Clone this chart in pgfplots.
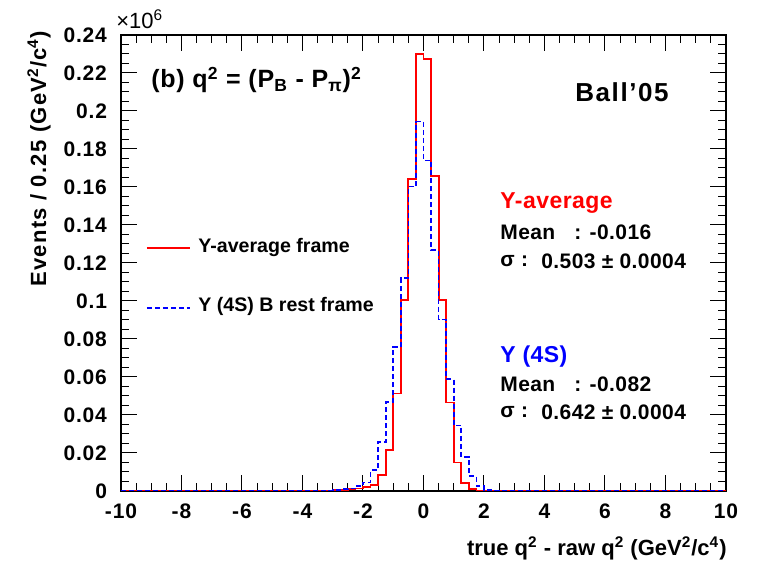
\documentclass[border=0pt]{standalone}
\usepackage{pgfplots}
\pgfplotsset{compat=1.18}
\usepackage{fontspec}
\setmainfont{Liberation Sans}
\definecolor{rootred}{RGB}{255,0,0}
\definecolor{rootblue}{RGB}{0,0,255}

% q^2 resolution, bins of 0.25 GeV^2/c^4 (left edge, events in units of 10^6)
\pgfplotstableread{
x      y
-10    0
-3.25  0.0002
-3.0   0.0004
-2.75  0.0006
-2.5   0.0009
-2.25  0.0013
-2.0   0.0022
-1.75  0.0033
-1.5   0.0086
-1.25  0.0214
-1.0   0.0513
-0.75  0.1005
-0.5   0.1643
-0.25  0.2300
0.0    0.2273
0.25   0.1656
0.5    0.1004
0.75   0.0466
1.0    0.0150
1.25   0.0040
1.5    0.0012
1.75   0.0003
2.0    0
10     0
}\avgframe

\pgfplotstableread{
x      y
-10    0
-3.25  0.0003
-3.0   0.0006
-2.75  0.0009
-2.5   0.0013
-2.25  0.0025
-2.0   0.0045
-1.75  0.0110
-1.5   0.0258
-1.25  0.0470
-1.0   0.0757
-0.75  0.1120
-0.5   0.1602
-0.25  0.1944
0.0    0.1740
0.25   0.1267
0.5    0.0902
0.75   0.0589
1.0    0.0345
1.25   0.0179
1.5    0.0080
1.75   0.0025
2.0    0.0006
2.25   0.0001
2.5    0
10     0
}\restframe

\newcommand\lblfont[2]{\fontsize{#1}{#1}\selectfont\bfseries\addfontfeature{LetterSpace=#2}}

\begin{document}
\begin{tikzpicture}
% page frame and annotations in a top-left based unit grid
\begin{scope}[x=0.5pt,y=-0.5pt,shift={(-60.5pt,245.5pt)}]
  \path[use as bounding box] (0,0) rectangle (757,561);
  \node[anchor=west,inner sep=0pt,font=\fontsize{11}{12}\selectfont] at (116,19) {×10\textsuperscript{6}};
  \node[rotate=90,anchor=east,inner sep=0pt,font=\lblfont{11}{6}] at (39,31) {Events / 0.25 (GeV\textsuperscript{2}/c\textsuperscript{4})};
  \node[anchor=east,inner sep=0pt,font=\lblfont{11}{0}] at (727,548) {true q\textsuperscript{2} - raw q\textsuperscript{2} (GeV\textsuperscript{2}/c\textsuperscript{4})};
  \node[anchor=west,inner sep=0pt,font=\lblfont{12.5}{3}] at (151,80) {(b) q\textsuperscript{2} = (P\textsubscript{B} - P\textsubscript{π})\textsuperscript{2}};
  \node[inner sep=0pt,font=\lblfont{13}{6}] at (622,92) {Ball’05};
  % legend
  \draw[rootred,line width=0.8pt] (147,248) -- (190,248);
  \node[anchor=west,inner sep=0pt,font=\lblfont{9.8}{0}] at (198,247) {Υ-average frame};
  \draw[rootblue,line width=0.8pt,dash pattern=on 2.5pt off 1.5pt] (147,308) -- (190,308);
  \node[anchor=west,inner sep=0pt,font=\lblfont{9.8}{0}] at (198,306) {Υ (4S) B rest frame};
  % fit results
  \begin{scope}[every node/.style={anchor=west,inner sep=0pt,font=\lblfont{10.5}{2}}]
    \node[text=rootred,font=\lblfont{11.5}{2}] at (500,203) {Υ-average};
    \node at (500,232) {Mean};
    \node at (574,232) {: -0.016};
    \node at (500,261) {σ :};
    \node at (541,261) {0.503 ± 0.0004};
    \node[text=rootblue,font=\lblfont{11.5}{2}] at (500,357) {Υ (4S)};
    \node at (500,384) {Mean};
    \node at (574,384) {: -0.082};
    \node at (500,412) {σ :};
    \node at (541,412) {0.642 ± 0.0004};
  \end{scope}
\end{scope}

\begin{axis}[
  at={(0,0)}, anchor=south west,
  scale only axis, width=302.5pt, height=228pt,
  xmin=-10, xmax=10, ymin=0, ymax=0.24,
  xtick={-10,-8,-6,-4,-2,0,2,4,6,8,10},
  xticklabels={-10,-8,-6,-4,-2,0,2,4,6,8,10},
  ytick={0,0.02,0.04,0.06,0.08,0.1,0.12,0.14,0.16,0.18,0.2,0.22,0.24},
  yticklabels={0,0.02,0.04,0.06,0.08,0.1,0.12,0.14,0.16,0.18,0.2,0.22,0.24},
  scaled y ticks=false,
  minor x tick num=3, minor y tick num=3,
  tick align=inside,
  major tick length=8pt, minor tick length=4pt,
  tick label style={font=\lblfont{10.5}{4}},
  xticklabel style={yshift=-3pt}, yticklabel style={xshift=-3.5pt},
  axis line style={line width=0.6pt},
  tick style={line width=0.5pt,black},
]
\addplot[const plot, rootred, line width=0.9pt] table[x=x,y=y] {\avgframe};
\addplot[const plot, rootblue, line width=0.85pt, dash pattern=on 2.5pt off 1.5pt] table[x=x,y=y] {\restframe};
\end{axis}
\end{tikzpicture}
\end{document}
